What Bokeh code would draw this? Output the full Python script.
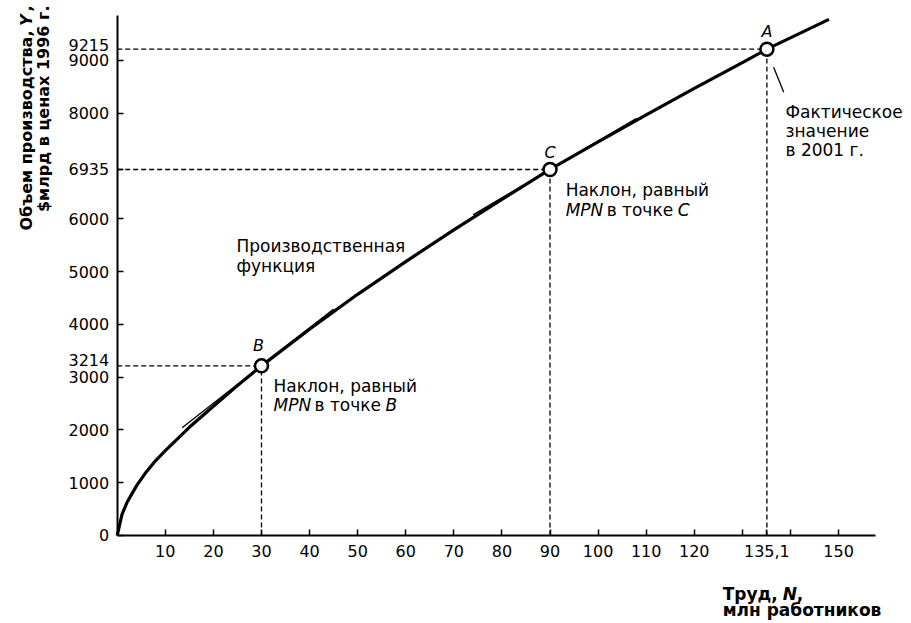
import math
from bokeh.plotting import figure
from bokeh.models import FixedTicker, Range1d, ColumnDataSource
from bokeh.core.properties import value
from bokeh.embed import file_html
from bokeh.resources import INLINE

# ---------------- data ----------------
labor = [0, 1, 2, 4, 6, 8, 10, 15, 20, 25, 30, 40, 50, 60, 70, 80, 90, 100, 110, 120, 130, 135.1, 148]
output = [0, 400, 620, 940, 1200, 1420, 1610, 2050, 2450, 2840, 3214, 3910, 4570, 5190, 5790,
          6370, 6935, 7460, 7970, 8470, 8960, 9215, 9780]

point_names = ["B", "C", "A"]
point_labor = [30, 90, 135.1]
point_output = [3214, 6935, 9215]

# tangent segments (slope equal to MPN at B and C)
tangent_x0 = [13.5, 74]
tangent_y0 = [2040, 6075]
tangent_x1 = [45, 108]
tangent_y1 = [4290, 7905]

x_ticks = [10, 20, 30, 40, 50, 60, 70, 80, 90, 100, 110, 120, 130, 135.1, 140, 150]
x_tick_labels = ["10", "20", "30", "40", "50", "60", "70", "80", "90", "100", "110", "120",
                 "", "135,1", "", "150"]
y_ticks = [0, 1000, 2000, 3000, 4000, 5000, 6000, 6935, 8000, 9000]
y_tick_labels = ["0", "1000", "2000", "3000", "4000", "5000", "6000", "6935", "8000", "9000"]
# values labelled beside the axis (too close to a round tick to share the axis)
y_extra_labels = ["3214", "9215"]
y_extra_values = [3214, 9215]

FONT = "DejaVu Sans"
W, H = 911, 623

# ---------------- figure ----------------
p = figure(width=W, height=H, output_backend="svg", toolbar_location=None,
           x_range=Range1d(-24.27, 165.17), y_range=Range1d(-1667.4, 10136.8))
p.min_border_left = 0
p.min_border_right = 0
p.min_border_top = 0
p.min_border_bottom = 0
p.outline_line_color = None
p.xgrid.visible = False
p.ygrid.visible = False
p.background_fill_color = "white"
p.border_fill_color = "white"

for ax in (p.xaxis[0], p.yaxis[0]):
    ax.fixed_location = 0
    ax.axis_line_width = 2
    ax.axis_line_color = "black"
    ax.major_tick_in = 6
    ax.major_tick_out = 0
    ax.major_tick_line_width = 1.5
    ax.major_tick_line_color = "black"
    ax.minor_tick_line_color = None
    ax.major_label_text_font = FONT
    ax.major_label_text_font_size = "16px"
    ax.major_label_text_color = "black"

p.xaxis[0].bounds = (0, 157.7)
p.yaxis[0].bounds = (0, 9850)
p.xaxis[0].major_label_standoff = 10
p.yaxis[0].major_label_standoff = 8

p.xaxis[0].ticker = FixedTicker(ticks=x_ticks)
p.xaxis[0].major_label_overrides = {t: s for t, s in zip(x_ticks, x_tick_labels)}
p.yaxis[0].ticker = FixedTicker(ticks=y_ticks)
p.yaxis[0].major_label_overrides = {t: s for t, s in zip(y_ticks, y_tick_labels)}

# extra value labels beside the y axis
p.text(x=[0] * len(y_extra_values), y=y_extra_values, text=y_extra_labels,
       x_offset=-8, y_offset=[-6, -4], text_font=value(FONT), text_font_size="16px",
       text_align="right", text_baseline="middle", text_color="black")

# dashed guides
p.segment(x0=[0] * len(point_labor), y0=point_output, x1=point_labor, y1=point_output,
          line_color="black", line_width=1.3, line_dash="5 3")
p.segment(x0=point_labor, y0=[0] * len(point_labor), x1=point_labor, y1=point_output,
          line_color="black", line_width=1.3, line_dash="5 3")

# production function
p.line(labor, output, line_color="black", line_width=3.2, line_join="round")
p.segment(x0=tangent_x0, y0=tangent_y0, x1=tangent_x1, y1=tangent_y1,
          line_color="black", line_width=1.3)

# leader line for A
p.segment(x0=[136.5], y0=[8873], x1=[138.6], y1=[8399], line_color="black", line_width=1.3)

# points
p.scatter(point_labor, point_output, size=13, fill_color="white", line_color="black",
          line_width=2.5)

src = ColumnDataSource(dict(x=point_labor, y=point_output, t=point_names,
                            xo=[-3, 0, 0], yo=[-20, -17, -18]))
p.text(x="x", y="y", text="t", source=src, x_offset="xo", y_offset="yo",
       text_font=value(FONT), text_font_size="16px", text_font_style="italic",
       text_align="center", text_baseline="middle", text_color="black")


def txt(x, y, s, style="normal", xo=0, size="17px", angle=0.0, align="left",
        baseline="alphabetic"):
    p.text(x=[x], y=[y], text=[s], text_font=value(FONT), text_font_size=size,
           text_font_style=style, text_color="black", x_offset=xo, angle=angle,
           text_align=align, text_baseline=baseline)


# annotations in plot
txt(24.8, 5476, "Производственная")
txt(24.8, 5097, "функция")

txt(32.5, 2842, "Наклон, равный")
txt(32.5, 2482, "MPN", "italic")
txt(32.5, 2482, "в точке", xo=41)
txt(32.5, 2482, "B", "italic", xo=112)

txt(93.25, 6537, "Наклон, равный")
txt(93.25, 6158, "MPN", "italic")
txt(93.25, 6158, "в точке", xo=41)
txt(93.25, 6158, "C", "italic", xo=112)

txt(138.96, 8015, "Фактическое")
txt(138.96, 7655, "значение")
txt(138.96, 7295, "в 2001 г.")

# y axis title (rotated)
ROT = math.pi / 2
txt(-18.9, 10042, ",", "bold", size="16px", angle=ROT, align="right", baseline="middle")
txt(-18.9, 9872, "Y", "bold italic", size="16px", angle=ROT, align="right", baseline="middle")
txt(-18.9, 9568, "Объем производства,", "bold", size="16px", angle=ROT, align="right",
    baseline="middle")
txt(-15.4, 10042, "$млрд в ценах 1996 г.", "bold", size="16px", angle=ROT, align="right",
    baseline="middle")

# x axis title
txt(125.9, -1099, "Труд,", "bold", size="17px")
txt(125.9, -1099, "N", "bold italic", size="17px", xo=60)
txt(125.9, -1099, ",", "bold", size="17px", xo=74)
txt(125.9, -1421, "млн работников", "bold", size="17px")

open("out.html", "w").write(file_html(p, INLINE))
